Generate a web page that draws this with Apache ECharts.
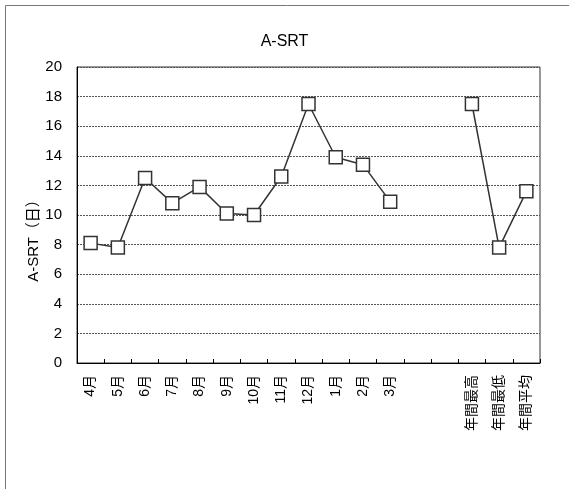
<!DOCTYPE html>
<html><head><meta charset="utf-8">
<script src="https://cdn.jsdelivr.net/npm/echarts@6/dist/echarts.min.js"></script>
<style>html,body{margin:0;padding:0;background:#fff}#c{width:569px;height:489px}</style>
</head><body><div id="c"></div>
<script>
const categories = ['4月','5月','6月','7月','8月','9月','10月','11月','12月','1月','2月','3月','','','年間最高','年間最低','年間平均'];
const values = [8.1, 7.8, 12.5, 10.8, 11.9, 10.1, 10.0, 12.6, 17.5, 13.9, 13.4, 10.9, null, null, 17.5, 7.8, 11.6];
const yTicks = [0, 2, 4, 6, 8, 10, 12, 14, 16, 18, 20];
const titleText = 'A-SRT';
const yName = 'A-SRT（日）';
const FONT = '"Liberation Sans", "Noto Sans CJK JP", sans-serif';
const chart = echarts.init(document.getElementById('c'), null, {renderer: 'canvas'});
chart.setOption({
  animation: false,
  backgroundColor: '#fff',
  textStyle: {fontFamily: FONT},
  title: {text: titleText, left: 'center', top: 29, textStyle: {fontSize: 16, fontWeight: 'normal', color: '#000', fontFamily: FONT}},
  graphic: [{type: 'rect', shape: {x: 5.5, y: 5.5, width: 600, height: 600}, style: {fill: 'none', stroke: '#777', lineWidth: 1}, silent: true, z: -10}],
  grid: {left: 77, right: 29, top: 67, bottom: 126, show: true, borderColor: '#333', borderWidth: 1, backgroundColor: 'transparent'},
  xAxis: {
    type: 'category', data: categories, boundaryGap: true,
    axisLine: {lineStyle: {color: '#000', width: 1}},
    axisTick: {show: true, inside: true, length: 4, alignWithLabel: false, lineStyle: {color: '#000'}},
    axisLabel: {rotate: 90, fontSize: 14, color: '#000', margin: 12, interval: 0, fontFamily: FONT}
  },
  yAxis: {
    type: 'value', min: yTicks[0], max: yTicks[yTicks.length - 1], interval: 2,
    name: yName, nameLocation: 'middle', nameGap: 36, nameRotate: 90, nameMoveOverlap: false,
    nameTextStyle: {fontSize: 15, color: '#000', fontFamily: FONT, padding: [0, 44, 0, 0]},
    axisLine: {show: true, lineStyle: {color: '#000'}},
    axisTick: {show: false},
    axisLabel: {fontSize: 15, color: '#000', margin: 15, fontFamily: FONT},
    splitLine: {show: true, lineStyle: {color: '#555', type: [2, 1], width: 1}}
  },
  series: [{
    type: 'line', data: values, connectNulls: false,
    symbol: 'rect', symbolSize: 13,
    lineStyle: {color: '#333', width: 1.5},
    itemStyle: {color: '#fff', borderColor: '#333', borderWidth: 1.5}
  }]
});
</script></body></html>
